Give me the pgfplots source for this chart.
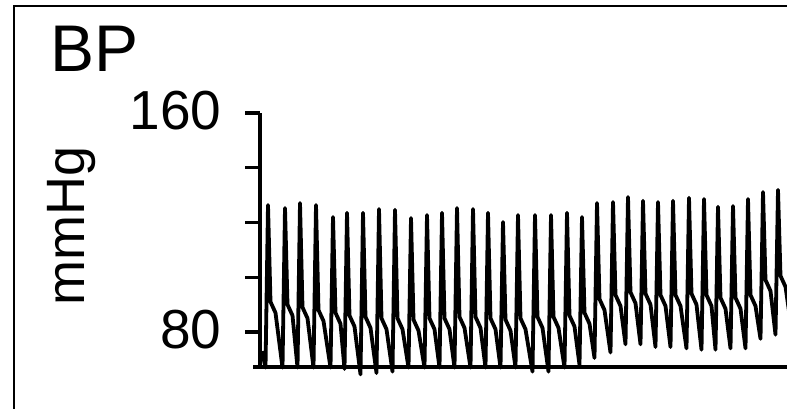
\documentclass[border=0pt]{standalone}
\usepackage{pgfplots}
\pgfplotsset{compat=1.18}
\usepackage{fontspec}
\setmainfont{Liberation Sans}
\begin{document}
\begin{tikzpicture}[x=1pt,y=1pt]
\useasboundingbox (0,0) rectangle (787,408);
\clip (0,0) rectangle (787,408);
\draw[line width=2.5pt] (14,-10) -- (14,402) -- (800,402);
\node[anchor=base west, inner sep=0, font=\fontsize{66}{70}\selectfont] at (50,336) {BP};
\node[rotate=90, inner sep=0, font=\fontsize{54}{60}\selectfont] at (72,182) {mmHg};
\begin{axis}[
  scale only axis, width=540pt, height=254pt,
  at={(260pt,41pt)}, anchor=south west,
  xmin=260, xmax=800, ymin=67.2, ymax=160,
  axis lines*=left,
  axis line style={line width=3.3pt, black},
  xtick=\empty,
  ytick={80,100,120,140,160},
  yticklabels={80,,,,160},
  tick align=outside, major tick length=15pt,
  tick style={line width=3.3pt, black},
  /pgf/number format/assume math mode=true,
  yticklabel style={font=\fontsize{55}{60}\selectfont, xshift=-20pt, yshift=2pt},
  clip=false,
]
\draw[line width=3.3pt] (axis cs:253,67.2) -- (axis cs:261,67.2);
\addplot[black, line width=3.8pt, line join=round, mark=none] coordinates {
(262,73) (265.5,67)
(268,126.4) (270.5,91) (275.5,87) (282.5,67)
(285,125.3) (287.5,90) (292.5,86) (297.5,67)
(300,127.1) (302.5,89) (307.5,85) (313.5,67)
(316,126.4) (318.5,88) (323.5,84) (330.5,67)
(333,122.0) (335.5,87) (340.5,83) (344.5,66.5)
(347,123.5) (349.5,86) (354.5,82) (360.5,64.5)
(363,123.5) (365.5,85.5) (370.5,81.5) (376.5,65)
(379,124.9) (381.5,85) (386.5,81) (392.5,65.5)
(395,124.6) (397.5,85) (402.5,81) (408.5,67)
(411,121.6) (413.5,84.5) (418.5,80.5) (424.5,67)
(427,122.7) (429.5,85) (434.5,81) (439.5,67)
(442,123.5) (444.5,85) (449.5,81) (454.5,67)
(457,125.3) (459.5,85.5) (464.5,81.5) (470.5,67)
(473,124.9) (475.5,85.5) (480.5,81.5) (485.5,67)
(488,123.5) (490.5,85) (495.5,81) (500.5,67)
(503,120.2) (505.5,84.5) (510.5,80.5) (515.5,67)
(518,122.7) (520.5,85) (525.5,81) (532.5,65.5)
(535,122.7) (537.5,85.5) (542.5,81.5) (548.5,65.5)
(551,122.7) (553.5,85.5) (558.5,81.5) (564.5,67)
(567,123.5) (569.5,86) (574.5,82) (579.5,68)
(582,122.0) (584.5,87) (589.5,83) (594.5,70.5)
(597,127.1) (599.5,92) (604.5,88) (610.5,72.5)
(613,127.5) (615.5,93.5) (620.5,89.5) (625.5,75.5)
(628,129.3) (630.5,94.5) (635.5,90.5) (640.5,75.5)
(643,127.9) (645.5,94) (650.5,90) (655.5,74.5)
(658,127.5) (660.5,93.5) (665.5,89.5) (670.5,74.5)
(673,127.9) (675.5,93.5) (680.5,89.5) (686.5,74)
(689,129.0) (691.5,94) (696.5,90) (701.5,73.5)
(704,128.6) (706.5,93.5) (711.5,89.5) (715.5,73.5)
(718,125.7) (720.5,92.5) (725.5,88.5) (730.5,74)
(733,126.0) (735.5,92.5) (740.5,88.5) (745.5,74)
(748,128.6) (750.5,93.5) (755.5,89.5) (760.5,77.5)
(763,131.1) (765.5,99) (770.5,95) (775.5,79)
(778,131.9) (780.5,100.5) (785.5,96.5) (792,80)
};
\end{axis}
\end{tikzpicture}
\end{document}
